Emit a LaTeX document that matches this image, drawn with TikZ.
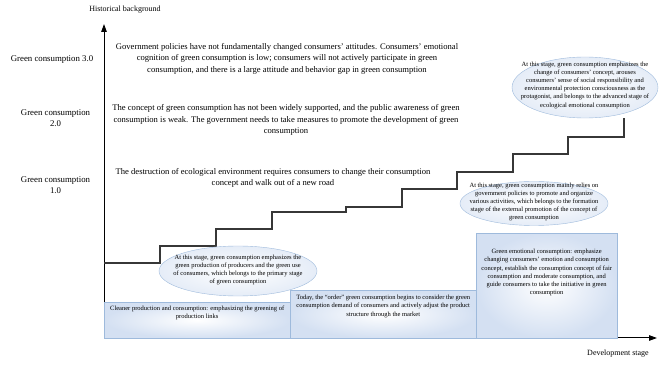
\documentclass[tikz,border=0pt]{standalone}
\usepackage{fontspec}
\setmainfont{Liberation Serif}
\usepackage{xcolor}
\usetikzlibrary{arrows.meta, shapes.geometric}
\definecolor{stageblue}{RGB}{158,186,220}
\definecolor{shadeblue}{RGB}{212,224,242}
\definecolor{stairgray}{RGB}{55,55,55}

\begin{document}
\begin{tikzpicture}[x=1pt, y=-1pt,
                axis/.style={line width=1pt, -{Triangle[length=8pt, width=5.5pt]}},
                stairline/.style={line width=1.2pt, stairgray},
                axislabel/.style={font=\fontsize{8}{9.5}\selectfont},
                levellabel/.style={align=center, font=\fontsize{8.8}{10.5}\selectfont},
                bgtext/.style={align=center, font=\fontsize{8.6}{11.5}\selectfont},
                stagebox/.style={draw=stageblue, inner color=white, outer color=shadeblue,
                                 anchor=north west, inner sep=0pt},
                stageoval/.style={ellipse, draw=stageblue, inner color=white,
                                  outer color=shadeblue!60, inner sep=0pt},
                stagetext/.style={align=center, inner sep=0pt,
                                  font=\fontsize{6.5}{8.2}\selectfont}]
                \useasboundingbox (0,0) rectangle (662,366);

                % axes
                \coordinate (origin) at (104,338);
                \coordinate (ytip) at (104,24);
                \coordinate (xtip) at (657,338);
                \draw[axis] (origin) -- (ytip);
                \draw[axis] (origin) -- (xtip);
                \node[axislabel] (ylab) at (125,10) {Historical background};
                \node[axislabel] (xlab) at (618,354) {Development stage};

                % levels on the left
                \node[levellabel] (lvlthree) at (52,60) {Green consumption 3.0};
                \node[levellabel] (lvltwo) at (55.5,118) {Green consumption\\2.0};
                \node[levellabel] (lvlone) at (55.5,185) {Green consumption\\1.0};

                % historical background texts
                \node[bgtext] (bgthree) at (287,58.5)
                      {Government policies have not fundamentally changed consumers' attitudes. Consumers' emotional\\
                       cognition of green consumption is low; consumers will not actively participate in green\\
                       consumption, and there is a large attitude and behavior gap in green consumption};
                \node[bgtext] (bgtwo) at (286,120)
                      {The concept of green consumption has not been widely supported, and the public awareness of green\\
                       consumption is weak. The government needs to take measures to promote the development of green\\
                       consumption};
                \node[bgtext] (bgone) at (273,178)
                      {The destruction of ecological environment requires consumers to change their consumption\\
                       concept and walk out of a new road};

                % staircase
                \draw[stairline] (104,263) -- (160,263) -- (160,246) -- (216,246) -- (216,229)
                      -- (272,229) -- (272,212) -- (346,212) -- (346,207) -- (402,207)
                      -- (402,189) -- (457,189) -- (457,172) -- (513,172) -- (513,154)
                      -- (568,154) -- (568,137) -- (624,137) -- (624,118);

                % stage boxes
                \node[stagebox, minimum width=186pt, minimum height=36pt] (cleanbox) at (104,302) {};
                \node[stagetext, anchor=north] (cleantext) at ([yshift=-3.5pt]cleanbox.north)
                      {Cleaner production and consumption: emphasizing the greening of\\production links};
                \node[stagebox, minimum width=186pt, minimum height=48pt] (orderbox) at (290,290) {};
                \node[stagetext, anchor=north] (ordertext) at ([yshift=-5pt]orderbox.north)
                      {Today, the ``order'' green consumption begins to consider the green\\
                       consumption demand of consumers and actively adjust the product\\
                       structure through the market};
                \node[stagebox, minimum width=141pt, minimum height=105pt] (emotionbox) at (476,233) {};
                \node[stagetext, anchor=north] (emotiontext) at ([yshift=-16pt]emotionbox.north)
                      {Green emotional consumption: emphasize\\
                       changing consumers' emotion and consumption\\
                       concept, establish the consumption concept of fair\\
                       consumption and moderate consumption, and\\
                       guide consumers to take the initiative in green\\
                       consumption};

                % stage ovals
                \node[stageoval, minimum width=158pt, minimum height=50pt] (primaryoval) at (238,271) {};
                \node[stagetext] (primarytext) at (238,270)
                      {At this stage, green consumption emphasizes the\\
                       green production of producers and the green use\\
                       of consumers, which belongs to the primary stage\\
                       of green consumption};
                \node[stageoval, minimum width=148pt, minimum height=44pt] (formoval) at (534,203.5) {};
                \node[stagetext] (formtext) at (534,202)
                      {At this stage, green consumption mainly relies on\\
                       government policies to promote and organize\\
                       various activities, which belongs to the formation\\
                       stage of the external promotion of the concept of\\
                       green consumption};
                \node[stageoval, minimum width=146pt, minimum height=61pt] (advoval) at (585,87.5) {};
                \node[stagetext] (advtext) at (585,85)
                      {At this stage, green consumption emphasizes the\\
                       change of consumers' concept, arouses\\
                       consumers' sense of social responsibility and\\
                       environmental protection consciousness as the\\
                       protagonist, and belongs to the advanced stage of\\
                       ecological emotional consumption};
            \end{tikzpicture}
\end{document}
